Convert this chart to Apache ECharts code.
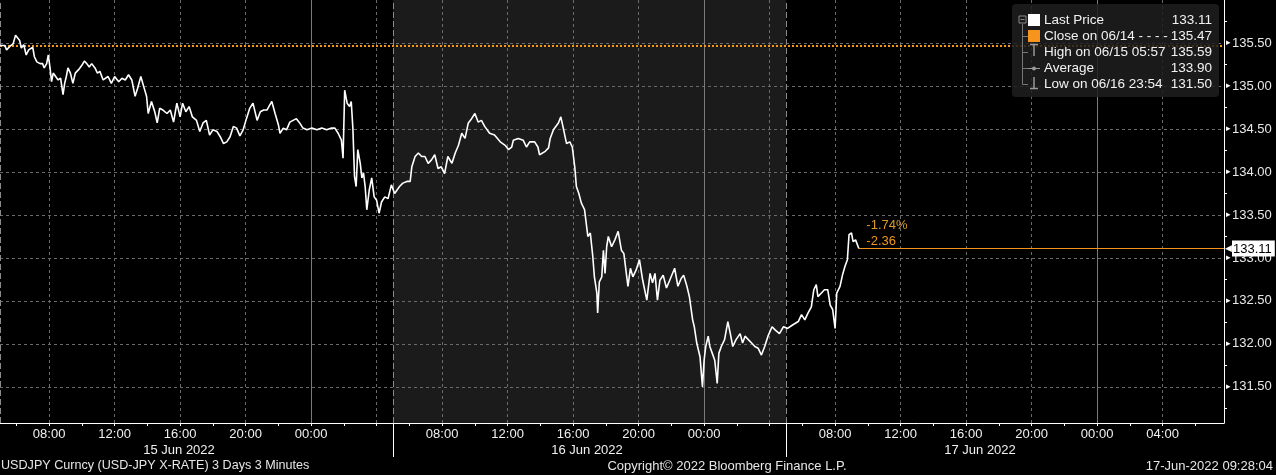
<!DOCTYPE html>
<html><head><meta charset="utf-8">
<script src="https://cdn.jsdelivr.net/npm/echarts@6/dist/echarts.min.js"></script>
<style>html,body{margin:0;padding:0;background:#000;}#c{width:1276px;height:475px;}</style>
</head><body><div id="c"></div>
<script>
// time: minutes after 15 Jun 2022 05:00 ; axis values are minutes since 15 Jun 2022 00:00
const START_MIN = 300;
const minutesAfterStart = [0,18,24,36,48,57,72,78,87,96,105,111,120,126,135,147,156,162,171,177,183,189,195,204,213,222,231,237,243,249,258,267,276,288,300,309,318,327,336,348,357,366,378,396,408,420,435,447,459,471,483,495,504,516,525,537,543,555,567,576,585,597,612,624,636,648,660,669,681,693,705,720,732,744,756,768,780,795,807,819,831,843,855,867,879,891,903,915,927,942,954,966,978,996,1008,1020,1026,1038,1050,1062,1074,1086,1098,1110,1125,1143,1161,1179,1197,1215,1227,1239,1251,1257,1263,1272,1281,1287,1293,1299,1305,1311,1320,1326,1332,1338,1344,1353,1362,1371,1380,1389,1398,1410,1422,1434,1446,1464,1476,1491,1503,1509,1521,1533,1545,1557,1569,1581,1593,1605,1617,1629,1641,1656,1668,1680,1692,1704,1716,1728,1740,1752,1764,1776,1794,1812,1833,1851,1863,1875,1881,1899,1917,1929,1941,1959,1971,1977,1998,2010,2016,2028,2046,2055,2064,2076,2088,2097,2106,2112,2121,2130,2142,2154,2163,2172,2178,2187,2190,2196,2205,2211,2217,2223,2229,2241,2253,2265,2277,2286,2295,2301,2310,2319,2331,2343,2355,2370,2382,2391,2400,2409,2418,2430,2442,2454,2472,2484,2496,2505,2517,2526,2538,2544,2553,2565,2574,2580,2586,2595,2601,2610,2619,2628,2634,2643,2655,2667,2676,2685,2697,2712,2721,2730,2742,2754,2766,2778,2790,2802,2814,2829,2841,2856,2871,2886,2904,2925,2937,2949,2961,2973,2982,2991,2997,3009,3021,3033,3042,3051,3060,3066,3078,3087,3096,3105,3111,3120,3126,3135,3147];
const prices = [135.47,135.47,135.42,135.46,135.49,135.59,135.53,135.44,135.48,135.36,135.42,135.44,135.45,135.34,135.28,135.26,135.26,135.21,135.26,135.36,135.22,135.05,135.15,135.11,135.07,135.09,134.90,135.03,135.11,135.21,135.15,135.03,135.15,135.19,135.24,135.29,135.26,135.22,135.26,135.21,135.15,135.17,135.07,135.11,135.03,135.11,135.05,135.09,135.07,135.13,135.07,134.88,134.97,135.11,135.01,134.88,134.68,134.82,134.70,134.57,134.74,134.72,134.68,134.72,134.58,134.80,134.64,134.80,134.70,134.76,134.64,134.60,134.47,134.57,134.60,134.43,134.49,134.47,134.41,134.33,134.35,134.41,134.53,134.51,134.42,134.49,134.62,134.74,134.80,134.60,134.70,134.72,134.72,134.82,134.68,134.55,134.45,134.51,134.49,134.58,134.60,134.62,134.57,134.51,134.49,134.51,134.49,134.51,134.49,134.51,134.51,134.45,134.37,134.16,134.95,134.80,134.76,134.82,134.51,133.95,133.83,134.26,134.10,133.93,133.99,133.83,133.56,133.79,133.93,133.71,133.67,133.52,133.65,133.71,133.69,133.85,133.75,133.83,133.87,133.89,133.89,134.06,134.18,134.22,134.18,134.18,134.10,134.14,134.20,134.04,134.06,133.98,134.18,134.10,134.22,134.31,134.45,134.39,134.57,134.62,134.68,134.58,134.60,134.53,134.45,134.43,134.35,134.31,134.26,134.29,134.37,134.39,134.37,134.29,134.35,134.35,134.29,134.20,134.24,134.28,134.39,134.49,134.57,134.64,134.51,134.33,134.35,134.29,134.06,133.83,133.75,133.64,133.56,133.25,133.29,133.02,132.78,132.59,132.36,132.72,132.78,133.09,132.82,133.13,133.25,133.13,133.21,133.31,133.09,133.05,132.82,132.67,132.88,132.78,132.86,132.98,132.74,132.51,132.82,132.71,132.82,132.51,132.74,132.80,132.65,132.74,132.88,132.67,132.76,132.80,132.67,132.55,132.28,132.20,132.01,131.85,131.50,131.81,131.97,132.09,131.97,131.89,131.81,131.54,131.89,131.97,132.05,132.26,132.12,131.97,132.05,132.12,132.01,132.09,132.05,132.01,131.97,131.95,131.87,131.97,132.09,132.20,132.16,132.12,132.20,132.18,132.22,132.26,132.34,132.28,132.36,132.43,132.63,132.69,132.55,132.59,132.63,132.63,132.45,132.40,132.18,132.59,132.67,132.80,132.90,132.98,133.27,133.29,133.19,133.21,133.11];
const closePrice = 135.47;
const legendLabels = ['Last Price', 'Close on 06/14 - - - -', 'High on 06/15 05:57', 'Average', 'Low on 06/16 23:54'];
const legendValues = ['133.11', '135.47', '135.59', '133.90', '131.50'];
const yTickLabels = [131.5, 132.0, 132.5, 133.0, 133.5, 134.0, 134.5, 135.0, 135.5];
const yMinorTicks = [131.25, 131.75, 132.25, 132.75, 133.25, 133.75, 134.25, 134.75, 135.25, 135.75];
const xGridMinutes = [480, 720, 960, 1200, 1440, 1680, 1920, 2160, 2400, 2640, 2880, 3120, 3360, 3600, 3840, 4080, 4320, 4560];
const xLabelMinutes = [480, 720, 960, 1200, 1440, 1920, 2160, 2400, 2640, 2880, 3360, 3600, 3840, 4080, 4320, 4560];
const xMinorTickMinutes = [360,480,600,720,840,960,1080,1200,1320,1440,1560,1680,1800,1920,2040,2160,2280,2400,2520,2640,2760,2880,3000,3120,3240,3360,3480,3600,3720,3840,3960,4080,4200,4320,4440,4560,4680];
const midnightMinutes = [1440, 2880, 4320];
const sessionBoundaryMinutes = [300, 1740, 3180];
const shadedSession = [1740, 3180];
const dateLabelMinutes = [956, 2451, 3891];
const dateLabels = ['15 Jun 2022', '16 Jun 2022', '17 Jun 2022'];
const X_MIN = 300, X_MAX = 4785, Y_MIN = 131.08, Y_MAX = 136.0;

const n = Math.min(minutesAfterStart.length, prices.length);
const lineData = [];
for (let i = 0; i < n; i++) lineData.push([START_MIN + minutesAfterStart[i], prices[i]]);
const last = lineData[n - 1];
const lastPrice = last[1];
const chg = lastPrice - closePrice;
const pct = chg / closePrice * 100;

const FONT = 'Liberation Sans, Arial, sans-serif';
const ORANGE = '#f5931f';
const hhmm = v => { const m = ((v % 1440) + 1440) % 1440; const h = Math.floor(m / 60), mm = Math.round(m % 60); return (h < 10 ? '0' : '') + h + ':' + (mm < 10 ? '0' : '') + mm; };

const chart = echarts.init(document.getElementById('c'), null, { renderer: 'canvas' });

// legend graphic
const lg = [];
const rowY = [20.5, 36.5, 52.5, 68.5, 84.5];
lg.push({ type: 'rect', shape: { x: 1012, y: 4, width: 207, height: 93, r: 4 }, style: { fill: 'rgba(30,30,30,0.85)' }, z: 100 });
lg.push({ type: 'rect', shape: { x: 1019, y: 16, width: 7, height: 7 }, style: { fill: 'none', stroke: '#888', lineWidth: 1 }, z: 101 });
lg.push({ type: 'line', shape: { x1: 1020.5, y1: 19.5, x2: 1024.5, y2: 19.5 }, style: { stroke: '#888', lineWidth: 1 }, z: 101 });
lg.push({ type: 'line', shape: { x1: 1022.5, y1: 24, x2: 1022.5, y2: 84.5 }, style: { stroke: '#777', lineWidth: 1 }, z: 101 });
[36.5, 52.5, 68.5, 84.5].forEach(y => lg.push({ type: 'line', shape: { x1: 1022.5, y1: y, x2: 1028, y2: y }, style: { stroke: '#777', lineWidth: 1 }, z: 101 }));
lg.push({ type: 'rect', shape: { x: 1028, y: 14, width: 12, height: 12 }, style: { fill: '#ffffff' }, z: 101 });
lg.push({ type: 'rect', shape: { x: 1028, y: 30, width: 12, height: 12 }, style: { fill: '#f7941d' }, z: 101 });
lg.push({ type: 'line', shape: { x1: 1030, y1: 44.5, x2: 1038, y2: 44.5 }, style: { stroke: '#999', lineWidth: 1.5 }, z: 101 });
lg.push({ type: 'line', shape: { x1: 1034, y1: 44.5, x2: 1034, y2: 56 }, style: { stroke: '#999', lineWidth: 1.5 }, z: 101 });
lg.push({ type: 'line', shape: { x1: 1028, y1: 68.5, x2: 1040, y2: 68.5 }, style: { stroke: '#999', lineWidth: 1 }, z: 101 });
lg.push({ type: 'circle', shape: { cx: 1034, cy: 68.5, r: 2 }, style: { fill: '#999' }, z: 101 });
lg.push({ type: 'line', shape: { x1: 1034, y1: 77, x2: 1034, y2: 88.5 }, style: { stroke: '#999', lineWidth: 1.5 }, z: 101 });
lg.push({ type: 'line', shape: { x1: 1030, y1: 88.5, x2: 1038, y2: 88.5 }, style: { stroke: '#999', lineWidth: 1.5 }, z: 101 });
legendLabels.forEach((t, i) => {
  lg.push({ type: 'text', x: 1044, y: rowY[i], style: { text: t, fill: '#f2f2f2', font: '13.5px ' + FONT, textVerticalAlign: 'middle', textAlign: 'left' }, z: 102 });
  lg.push({ type: 'text', x: 1212, y: rowY[i], style: { text: legendValues[i], fill: '#f2f2f2', font: '13.5px ' + FONT, textVerticalAlign: 'middle', textAlign: 'right' }, z: 102 });
});
lg.push({ type: 'text', x: 1, y: 466, style: { text: 'USDJPY Curncy (USD-JPY X-RATE) 3 Days 3 Minutes', fill: '#e6e6e6', font: '12.6px ' + FONT, textVerticalAlign: 'middle', textAlign: 'left' } });
lg.push({ type: 'text', x: 727, y: 466, style: { text: 'Copyright\u00a9 2022 Bloomberg Finance L.P.', fill: '#e6e6e6', font: '13px ' + FONT, textVerticalAlign: 'middle', textAlign: 'center' } });
lg.push({ type: 'text', x: 1273, y: 466, style: { text: '17-Jun-2022 09:28:04', fill: '#e6e6e6', font: '13px ' + FONT, textVerticalAlign: 'middle', textAlign: 'right' } });

const option = {
  backgroundColor: '#000',
  animation: false,
  textStyle: { fontFamily: FONT },
  grid: { left: 0, right: 52, top: 0, bottom: 52, containLabel: false },
  graphic: lg,
  xAxis: [
    { type: 'value', min: X_MIN, max: X_MAX, position: 'bottom', z: 4,
      axisLine: { show: true, lineStyle: { color: '#ffffff', width: 1 } },
      axisTick: { show: true, customValues: xMinorTickMinutes, length: 3, lineStyle: { color: '#ffffff' } },
      axisLabel: { show: true, customValues: xLabelMinutes, formatter: v => hhmm(v), color: '#f0f0f0', fontSize: 13, margin: 5 },
      splitLine: { show: false } },
    { type: 'value', min: X_MIN, max: X_MAX, position: 'bottom', z: 3,
      axisLine: { show: false }, axisLabel: { show: false },
      axisTick: { show: false, customValues: xGridMinutes },
      splitLine: { show: true, lineStyle: { color: '#6a6a6a', type: [3, 3], width: 1 } } },
    { type: 'value', min: X_MIN, max: X_MAX, position: 'bottom', z: 4,
      axisLine: { show: false },
      axisTick: { show: true, customValues: [shadedSession[0], shadedSession[1]], length: 34, lineStyle: { color: '#ffffff', width: 1 } },
      axisLabel: { show: true, customValues: dateLabelMinutes, margin: 21, color: '#f0f0f0', fontSize: 13,
        formatter: v => { const i = dateLabelMinutes.indexOf(Math.round(v)); return i >= 0 ? dateLabels[i] : ''; } },
      splitLine: { show: false } }
  ],
  yAxis: [
    { type: 'value', min: Y_MIN, max: Y_MAX, position: 'right', z: 3,
      axisLine: { show: true, lineStyle: { color: '#ffffff', width: 1 } },
      axisTick: { show: false, customValues: yTickLabels },
      axisLabel: { show: true, customValues: yTickLabels, margin: 2,
        formatter: v => '{t|\u25B8}{v|' + Number(v).toFixed(2) + '}',
        rich: { t: { fontSize: 9, color: '#ffffff', padding: [0, 1, 0, 0] }, v: { fontSize: 13, color: '#e8e8e8', fontFamily: FONT } } },
      splitLine: { show: true, lineStyle: { color: '#6a6a6a', type: [3, 3], width: 1 } } },
    { type: 'value', min: Y_MIN, max: Y_MAX, position: 'right', z: 3,
      axisLine: { show: false }, axisLabel: { show: false },
      axisTick: { show: true, customValues: yMinorTicks, length: 3, lineStyle: { color: '#ffffff' } },
      splitLine: { show: false } }
  ],
  series: [
    { type: 'line', name: 'bg', data: [], xAxisIndex: 0, yAxisIndex: 0, z: 1, silent: true,
      markArea: { silent: true, z: 1, itemStyle: { color: '#1b1b1b' },
        data: [[{ xAxis: shadedSession[0] }, { xAxis: shadedSession[1] }]] },
      markLine: { silent: true, symbol: ['none', 'none'], z: 4, label: { show: false },
        data: [
          ...midnightMinutes.map(m => ({ xAxis: m, lineStyle: { color: '#7a7a7a', type: 'solid', width: 1 } })),
          ...sessionBoundaryMinutes.map(m => ({ xAxis: m, lineStyle: { color: '#8a8a8a', type: [6, 3], width: 1 } }))
        ] } },
    { type: 'line', name: 'Last Price', data: lineData, xAxisIndex: 0, yAxisIndex: 0, z: 6,
      showSymbol: false, symbol: 'none', lineStyle: { color: '#ffffff', width: 1.6 },
      markLine: { silent: true, symbol: ['none', 'none'], z: 5,
        data: [
          { yAxis: closePrice, lineStyle: { color: '#f7941d', type: [2, 2], width: 2 }, label: { show: false } },
          [ { coord: [last[0], lastPrice], lineStyle: { color: ORANGE, type: 'solid', width: 1 },
              label: { show: true, position: 'end', distance: 1, formatter: '{a|\u25C0}{b|' + lastPrice.toFixed(2) + '}',
                rich: { a: { color: '#ffffff', fontSize: 9, padding: [0, 0, 0, 0] },
                        b: { color: '#000', backgroundColor: '#ffffff', padding: [2, 3, 1, 1], fontSize: 13, fontFamily: FONT } } } },
            { coord: [X_MAX, lastPrice] } ]
        ] },
      markPoint: { silent: true, symbol: 'circle', symbolSize: 1, itemStyle: { color: 'rgba(0,0,0,0)' },
        data: [{ coord: [last[0], lastPrice],
          label: { show: true, position: 'right', distance: 7, offset: [0, -15], align: 'left',
            formatter: '{a|' + pct.toFixed(2) + '%}\n{b|' + chg.toFixed(2) + '}',
            rich: { a: { color: '#d99a2b', fontSize: 13, lineHeight: 16, fontFamily: FONT }, b: { color: '#f0961e', fontSize: 13, lineHeight: 16, fontFamily: FONT } } } }] } }
  ]
};
chart.setOption(option);
</script></body></html>
